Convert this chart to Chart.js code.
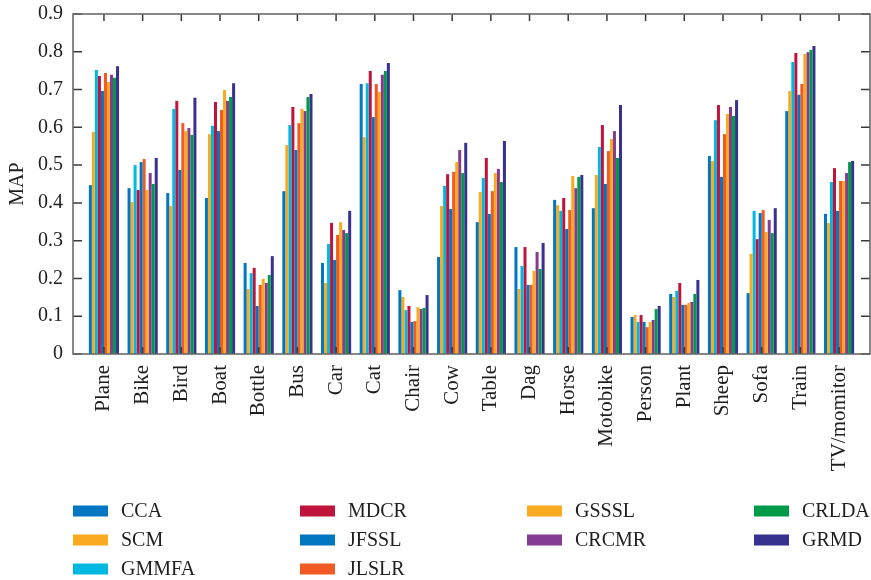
<!DOCTYPE html>
<html>
<head>
<meta charset="utf-8">
<script src="https://cdn.jsdelivr.net/npm/chart.js@4"></script>
<style>
  html, body { margin: 0; padding: 0; background: #fff; }
  #wrap { width: 871px; height: 580px; position: relative; }
</style>
</head>
<body>
<div id="wrap"><canvas id="mapChart"></canvas></div>
<script>
// categories (x axis)
const categories = ['Plane', 'Bike', 'Bird', 'Boat', 'Bottle', 'Bus', 'Car', 'Cat', 'Chair', 'Cow',
  'Table', 'Dag', 'Horse', 'Motobike', 'Person', 'Plant', 'Sheep', 'Sofa', 'Train', 'TV/momitor'];

const yTicks = [0, 0.1, 0.2, 0.3, 0.4, 0.5, 0.6, 0.7, 0.8, 0.9];

// method names, in bar order
const methods = ['CCA', 'SCM', 'GMMFA', 'MDCR', 'JFSSL', 'JLSLR', 'GSSSL', 'CRCMR', 'CRLDA', 'GRMD'];
const colors = ['#0077C0', '#F9AA1F', '#00B9E3', '#C0143C', '#0077C0', '#F15A22', '#F9AA1F', '#843B91', '#009B48', '#37318F'];

// legend columns (indices into methods)
const legendColumns = [[0, 1, 2], [3, 4, 5], [6, 7], [8, 9]];

// MAP per method, one value per category
const CCA   = [0.447, 0.439, 0.426, 0.413, 0.241, 0.431, 0.241, 0.715, 0.169, 0.257, 0.349, 0.283, 0.408, 0.386, 0.098, 0.159, 0.524, 0.161, 0.643, 0.371];
const SCM   = [0.588, 0.402, 0.392, 0.582, 0.172, 0.553, 0.188, 0.574, 0.151, 0.392, 0.429, 0.172, 0.394, 0.474, 0.103, 0.151, 0.511, 0.265, 0.696, 0.347];
const GMMFA = [0.752, 0.500, 0.649, 0.604, 0.214, 0.606, 0.291, 0.717, 0.116, 0.445, 0.466, 0.233, 0.379, 0.548, 0.085, 0.167, 0.619, 0.379, 0.773, 0.455];
const MDCR  = [0.736, 0.434, 0.670, 0.667, 0.228, 0.654, 0.347, 0.749, 0.127, 0.476, 0.519, 0.283, 0.413, 0.606, 0.103, 0.188, 0.659, 0.304, 0.797, 0.492];
const JFSSL = [0.696, 0.508, 0.487, 0.590, 0.127, 0.540, 0.249, 0.627, 0.085, 0.384, 0.371, 0.183, 0.331, 0.450, 0.085, 0.130, 0.469, 0.373, 0.686, 0.379];
const JLSLR = [0.744, 0.516, 0.611, 0.646, 0.183, 0.611, 0.315, 0.715, 0.087, 0.482, 0.431, 0.183, 0.381, 0.537, 0.071, 0.130, 0.582, 0.381, 0.715, 0.458];
const GSSSL = [0.720, 0.434, 0.590, 0.699, 0.199, 0.649, 0.349, 0.694, 0.124, 0.508, 0.479, 0.220, 0.471, 0.569, 0.085, 0.135, 0.635, 0.323, 0.794, 0.458];
const CRCMR = [0.739, 0.479, 0.598, 0.670, 0.188, 0.643, 0.328, 0.739, 0.119, 0.540, 0.490, 0.270, 0.439, 0.590, 0.090, 0.138, 0.654, 0.355, 0.799, 0.479];
const CRLDA = [0.731, 0.450, 0.580, 0.680, 0.209, 0.680, 0.320, 0.749, 0.122, 0.479, 0.455, 0.225, 0.469, 0.519, 0.119, 0.159, 0.630, 0.320, 0.805, 0.508];
const GRMD  = [0.762, 0.519, 0.678, 0.717, 0.259, 0.688, 0.379, 0.770, 0.156, 0.559, 0.564, 0.294, 0.474, 0.659, 0.127, 0.196, 0.672, 0.386, 0.815, 0.511];

const seriesValues = [CCA, SCM, GMMFA, MDCR, JFSSL, JLSLR, GSSSL, CRCMR, CRLDA, GRMD];

const FONT = '"Liberation Serif", "DejaVu Serif", serif';
const TEXT_COLOR = '#1e1e1e';

// box around the plot with inward ticks on all four sides
const boxPlugin = {
  id: 'boxAxes',
  afterDatasetsDraw(chart) {
    const { ctx, chartArea: a, scales } = chart;
    const len = 7;
    ctx.save();
    ctx.strokeStyle = '#3a3a3a';
    ctx.lineWidth = 1.5;
    ctx.beginPath();
    categories.forEach((c, i) => {
      const x = scales.x.getPixelForValue(i);
      ctx.moveTo(x, a.bottom); ctx.lineTo(x, a.bottom - len);
      ctx.moveTo(x, a.top); ctx.lineTo(x, a.top + len);
    });
    yTicks.forEach(v => {
      const y = scales.y.getPixelForValue(v);
      ctx.moveTo(a.left, y); ctx.lineTo(a.left + len + 2, y);
      ctx.moveTo(a.right, y); ctx.lineTo(a.right - len - 2, y);
    });
    ctx.stroke();
    ctx.strokeStyle = '#6a6a6a';
    ctx.lineWidth = 1.6;
    ctx.strokeRect(a.left, a.top, a.right - a.left, a.bottom - a.top);
    ctx.restore();
  }
};

// legend laid out in columns like the original figure
const gridLegend = {
  id: 'gridLegend',
  afterDraw(chart) {
    const { ctx, chartArea: a } = chart;
    const colW = 227, rowH = 29, top = 511;
    ctx.save();
    ctx.font = '20px ' + FONT;
    ctx.textBaseline = 'middle';
    legendColumns.forEach((col, c) => {
      col.forEach((i, r) => {
        const ds = chart.data.datasets[i];
        const x = a.left + c * colW;
        const y = top + r * rowH;
        ctx.fillStyle = ds.backgroundColor;
        ctx.fillRect(x, y - 5.5, 35, 11);
        ctx.fillStyle = TEXT_COLOR;
        ctx.fillText(ds.label, x + 48, y + 1);
      });
    });
    ctx.restore();
  }
};

const ctx = document.getElementById('mapChart').getContext('2d');
new Chart(ctx, {
  type: 'bar',
  data: {
    datasets: methods.map((m, k) => ({
      label: m,
      data: seriesValues[k].map((v, i) => ({ x: i, y: v })),
      backgroundColor: colors[k],
      borderWidth: 0,
      categoryPercentage: 0.78,
      barPercentage: 1.0
    }))
  },
  options: {
    responsive: true,
    maintainAspectRatio: false,
    animation: false,
    layout: { padding: { top: 14, right: 1, left: 0, bottom: 96 } },
    plugins: {
      legend: { display: false },
      tooltip: { enabled: false }
    },
    scales: {
      x: {
        type: 'linear',
        offset: false,
        min: -0.8,
        max: 19.8,
        grid: { display: false },
        border: { display: false },
        afterBuildTicks: (axis) => { axis.ticks = categories.map((c, i) => ({ value: i })); },
        afterFit: (axis) => { axis.height = 130; },
        ticks: {
          autoSkip: false,
          minRotation: 90,
          maxRotation: 90,
          padding: 3,
          color: TEXT_COLOR,
          font: { family: FONT, size: 21 },
          callback: (value) => categories[value] ?? ''
        }
      },
      y: {
        min: 0,
        max: 0.9,
        grid: { display: false },
        border: { display: false },
        afterFit: (axis) => { axis.width = 73; },
        title: {
          display: true,
          text: 'MAP',
          color: TEXT_COLOR,
          font: { family: FONT, size: 20 },
          padding: { top: 6, bottom: 0 }
        },
        ticks: {
          stepSize: 0.1,
          padding: 2,
          color: TEXT_COLOR,
          font: { family: FONT, size: 20 },
          callback: (value) => value === 0 ? '0' : value.toFixed(1)
        }
      }
    }
  },
  plugins: [boxPlugin, gridLegend]
});
</script>
</body>
</html>
